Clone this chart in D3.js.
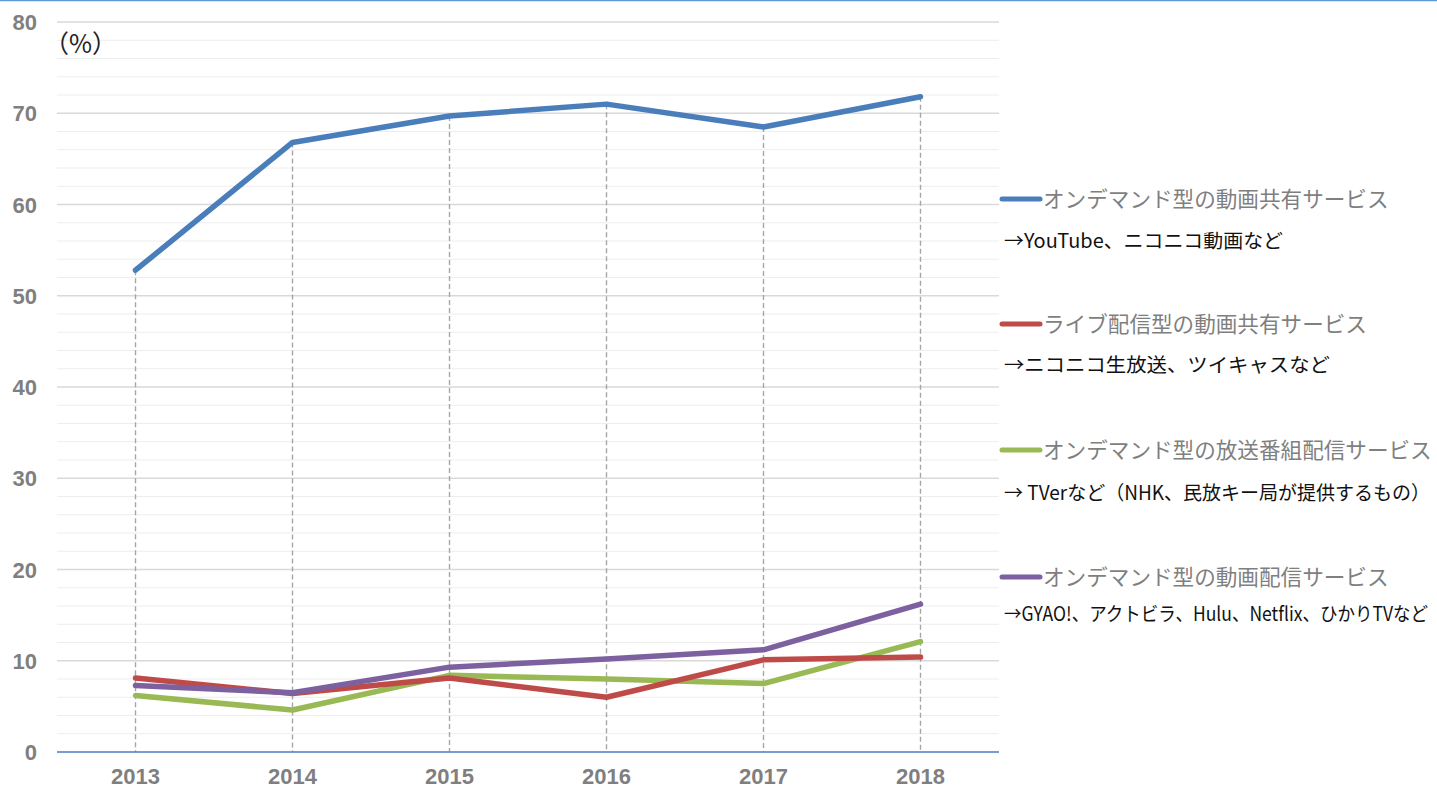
<!DOCTYPE html>
<html>
<head>
<meta charset="utf-8">
<script src="https://cdn.jsdelivr.net/npm/d3@7"></script>
<style>
  body { margin: 0; background: #fff; }
</style>
</head>
<body>
<div class="canvas"></div>
<script>
// data
const years = ['2013', '2014', '2015', '2016', '2017', '2018']
const seriesNames = [
  'オンデマンド型の動画共有サービス',
  'ライブ配信型の動画共有サービス',
  'オンデマンド型の放送番組配信サービス',
  'オンデマンド型の動画配信サービス'
]
const seriesNotes = [
  '→YouTube、ニコニコ動画など',
  '→ニコニコ生放送、ツイキャスなど',
  '→ TVerなど（NHK、民放キー局が提供するもの）',
  '→GYAO!、アクトビラ、Hulu、Netflix、ひかりTVなど'
]
const onDemandShare = [52.8, 66.8, 69.7, 71.0, 68.5, 71.8]
const liveShare = [8.1, 6.4, 8.1, 6.0, 10.1, 10.4]
const broadcast = [6.2, 4.6, 8.4, 8.0, 7.5, 12.1]
const onDemandVideo = [7.3, 6.5, 9.3, 10.2, 11.2, 16.2]
const yTicks = [0, 10, 20, 30, 40, 50, 60, 70, 80]

const allSeries = [onDemandShare, liveShare, broadcast, onDemandVideo]
const colors = ['#4a7ebb', '#be4b48', '#98b954', '#7d60a0']

const W = 1437, H = 789
const svg = d3.select('.canvas').append('svg')
    .attr('width', W)
    .attr('height', H)
    .style('font-family', "'Noto Sans CJK JP', 'Noto Sans', sans-serif")

// top border
svg.append('line')
    .attr('x1', 0).attr('x2', W)
    .attr('y1', 0.5).attr('y2', 0.5)
    .attr('stroke', '#5b9bd5')
    .attr('stroke-width', 1.5)

const x = d3.scaleBand().domain(years).range([57, 999])
const y = d3.scaleLinear().domain([0, 80]).range([752, 22])

// minor gridlines every 2
svg.append('g').selectAll('line')
    .data(d3.range(2, 81, 2).filter(v => v % 10 !== 0))
    .join('line')
    .attr('x1', 57).attr('x2', 999)
    .attr('y1', d => y(d)).attr('y2', d => y(d))
    .attr('stroke', '#ededed')
    .attr('stroke-width', 1.2)

// major gridlines
svg.append('g').selectAll('line')
    .data(yTicks.filter(v => v > 0))
    .join('line')
    .attr('x1', 57).attr('x2', 999)
    .attr('y1', d => y(d)).attr('y2', d => y(d))
    .attr('stroke', '#d9d9d9')
    .attr('stroke-width', 1.4)

// y labels
svg.append('g').selectAll('text')
    .data(yTicks)
    .join('text')
    .attr('x', 37)
    .attr('y', d => y(d) + 8)
    .attr('text-anchor', 'end')
    .attr('fill', '#7f7f7f')
    .style('font-family', "'Liberation Sans', Arial, sans-serif")
    .style('font-weight', 'bold')
    .style('font-size', '22px')
    .text(d => d)

// x labels
svg.append('g').selectAll('text')
    .data(years)
    .join('text')
    .attr('x', d => x(d) + x.bandwidth() / 2)
    .attr('y', 784)
    .attr('text-anchor', 'middle')
    .attr('fill', '#7f7f7f')
    .style('font-family', "'Liberation Sans', Arial, sans-serif")
    .style('font-weight', 'bold')
    .style('font-size', '22px')
    .text(d => d)

// drop lines from highest point to axis
svg.append('g').selectAll('line')
    .data(years)
    .join('line')
    .attr('x1', d => x(d) + x.bandwidth() / 2)
    .attr('x2', d => x(d) + x.bandwidth() / 2)
    .attr('y1', (d, i) => y(d3.max(allSeries, s => s[i])))
    .attr('y2', y(0))
    .attr('stroke', '#a6a6a6')
    .attr('stroke-width', 1.4)
    .attr('stroke-dasharray', '5,3')

// x axis line
svg.append('line')
    .attr('x1', 57).attr('x2', 999)
    .attr('y1', y(0)).attr('y2', y(0))
    .attr('stroke', '#4a7ebb')
    .attr('stroke-width', 1.3)

// lines
const line = d3.line()
    .x((d, i) => x(years[i]) + x.bandwidth() / 2)
    .y(d => y(d))

// draw back to front so blue is on top
const order = [2, 1, 3, 0]
order.forEach(k => {
  svg.append('path')
      .datum(allSeries[k])
      .attr('d', line)
      .attr('fill', 'none')
      .attr('stroke', colors[k])
      .attr('stroke-width', 5.5)
      .attr('stroke-linejoin', 'round')
      .attr('stroke-linecap', 'round')
})

// unit label
svg.append('text')
    .attr('x', 44)
    .attr('y', 53)
    .attr('fill', '#222')
    .style('font-size', '25px')
    .text('（%）')

// legend
const legendY = [199, 324, 450, 577]
const noteY = [241, 365, 493, 614]
const noteWidth = [279, 326, 426, 424]
seriesNames.forEach((name, k) => {
  svg.append('line')
      .attr('x1', 1002).attr('x2', 1040)
      .attr('y1', legendY[k]).attr('y2', legendY[k])
      .attr('stroke', colors[k])
      .attr('stroke-width', 5)
      .attr('stroke-linecap', 'round')
  svg.append('text')
      .attr('x', 1043)
      .attr('y', legendY[k] + 8)
      .attr('fill', '#7f7f7f')
      .style('font-size', '21.6px')
      .text(name)
  svg.append('text')
      .attr('x', 1004)
      .attr('y', noteY[k] + 7)
      .attr('fill', '#111')
      .attr('textLength', noteWidth[k])
      .attr('lengthAdjust', 'spacingAndGlyphs')
      .style('font-size', '19.5px')
      .text(seriesNotes[k])
})
</script>
</body>
</html>
